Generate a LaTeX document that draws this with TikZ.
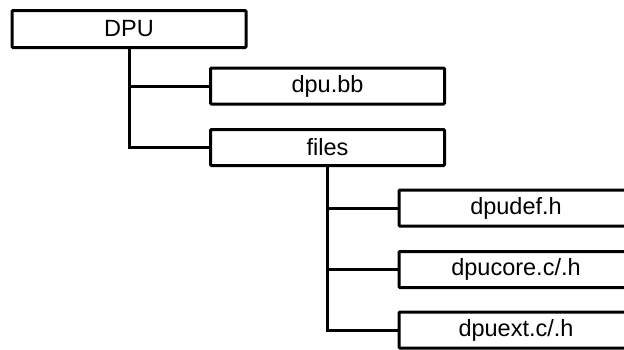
\documentclass[tikz,border=0pt]{standalone}
\usepackage{fontspec}
\setmainfont{Liberation Sans}
\begin{document}
\begin{tikzpicture}[x=1pt,y=1pt,
  filebox/.style={draw=black, line width=3pt, fill=white, rounded corners=1pt,
    minimum width=234pt, minimum height=36pt, inner sep=0pt,
    font=\fontsize{23.5}{28}\selectfont},
  branch/.style={draw=black, line width=3pt}]
  \useasboundingbox (0,0) rectangle (624,-349);
  \clip (0,0) rectangle (624,-349);
  % tree: root, its two children, and the three files
  \node[filebox, minimum height=37pt] (dpu) at (129,-29) {DPU};
  \node[filebox] (bb) at (327.5,-86) {dpu.bb};
  \node[filebox] (files) at (327.5,-147.5) {files};
  \node[filebox] (def) at (516,-208) {dpudef.h};
  \node[filebox] (core) at (516,-269.5) {dpucore.c/.h};
  \node[filebox] (ext) at (516,-330) {dpuext.c/.h};
  % connectors from each parent down and across to its children
  \draw[branch] (dpu.south) |- (bb.west);
  \draw[branch] (dpu.south) |- (files.west);
  \draw[branch] (files.south) |- (def.west);
  \draw[branch] (files.south) |- (core.west);
  \draw[branch] (files.south) |- (ext.west);
\end{tikzpicture}
\end{document}
